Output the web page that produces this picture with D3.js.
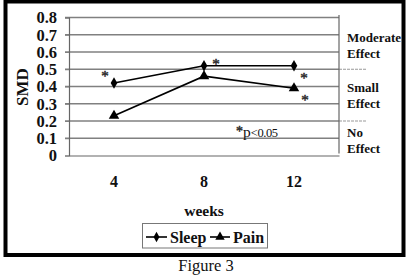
<!DOCTYPE html>
<html>
<head>
<meta charset="utf-8">
<script src="https://cdn.jsdelivr.net/npm/d3@7/dist/d3.min.js"></script>
<style>
  body { margin: 0; background: #fff; }
  svg { display: block; }
  text { font-family: "Liberation Serif", "Times New Roman", serif; fill: #111; }
  .estrela { stroke: #333; stroke-width: 0.5; }
</style>
</head>
<body>
<svg width="412" height="278"></svg>
<script>
// weeks on the x axis and SMD values per series
var semanas = ["4", "8", "12"];
var sono = [0.42, 0.52, 0.52];
var dor = [0.23, 0.46, 0.39];
var ticksY = [0, 0.1, 0.2, 0.3, 0.4, 0.5, 0.6, 0.7, 0.8];
// effect thresholds and their labels on the right
var limiares = [0.2, 0.5];
var efeitos = [["Moderate", "Effect"], ["Small", "Effect"], ["No", "Effect"]];
// significant points (* marks)
var sigSono = [true, true, true];
var sigDor = [false, false, true];

var svg = d3.select("svg");

var x = d3.scaleBand().domain(semanas).range([69, 339]);
var y = d3.scaleLinear().domain([0, 0.8]).range([155.5, 17.5]);

// outer frame
svg.append("rect")
    .attr("x", 5.5).attr("y", 1.5)
    .attr("width", 398).attr("height", 253.5)
    .attr("fill", "none").attr("stroke", "#000").attr("stroke-width", 4);

// gridlines
svg.append("g")
  .selectAll("line")
  .data(ticksY.filter(function(t){ return t > 0; }))
  .enter().append("line")
    .attr("x1", 65).attr("x2", 339)
    .attr("y1", function(d){ return y(d); })
    .attr("y2", function(d){ return y(d); })
    .attr("stroke", "#808080").attr("stroke-width", 1.3);

// threshold extensions past the right axis
svg.append("g")
  .selectAll("line")
  .data(limiares)
  .enter().append("line")
    .attr("x1", 339).attr("x2", 366)
    .attr("y1", function(d){ return y(d); })
    .attr("y2", function(d){ return y(d); })
    .attr("stroke", "#999").attr("stroke-width", 1.2)
    .attr("stroke-dasharray", "3,1");

// y axis
var eixoY = svg.append("g")
    .attr("transform", "translate(69,0)")
    .call(d3.axisLeft(y).tickValues(ticksY).tickSize(4).tickPadding(8)
      .tickFormat(function(d){ return d == 0 ? "0" : d3.format(".1f")(d); }));
eixoY.select(".domain").attr("stroke", "#666").attr("stroke-width", 1.2);
eixoY.selectAll(".tick line").attr("stroke", "#808080");
eixoY.selectAll("text")
    .attr("font-family", "Liberation Serif").attr("font-size", 16.5)
    .attr("font-weight", "bold").attr("fill", "#111");

// x axis
var eixoX = svg.append("g")
    .attr("transform", "translate(0," + y(0) + ")")
    .call(d3.axisBottom(x).tickSize(0).tickPadding(20));
eixoX.select(".domain").attr("stroke", "#666").attr("stroke-width", 1.2);
eixoX.selectAll("text")
    .attr("font-family", "Liberation Serif").attr("font-size", 16)
    .attr("font-weight", "bold").attr("fill", "#111");

// right side vertical line
svg.append("line")
    .attr("x1", 339).attr("x2", 339)
    .attr("y1", 15).attr("y2", y(0) - 2)
    .attr("stroke", "#666").attr("stroke-width", 1.2);

// right effect labels
var posEfeito = [42, 92, 137];
efeitos.forEach(function(e, i) {
  var t = svg.append("text")
      .attr("x", 347).attr("y", posEfeito[i])
      .attr("font-size", 13).attr("font-weight", "bold");
  t.append("tspan").attr("x", 347).text(e[0]);
  t.append("tspan").attr("x", 347).attr("dy", 15.5).text(e[1]);
});

// axis titles
svg.append("text")
    .attr("transform", "translate(28,87) rotate(-90)")
    .attr("text-anchor", "middle")
    .attr("font-size", 17).attr("font-weight", "bold")
    .text("SMD");

svg.append("text")
    .attr("x", 204).attr("y", 216)
    .attr("text-anchor", "middle")
    .attr("font-size", 15.5).attr("font-weight", "bold")
    .text("weeks");

// series lines and markers
var linha = d3.line()
    .x(function(d, i){ return x(semanas[i]) + x.bandwidth() / 2; })
    .y(function(d){ return y(d); });

var series = [
  { nome: "Sleep", valores: sono, simbolo: d3.symbolDiamond, tamanho: 38, sig: sigSono },
  { nome: "Pain", valores: dor, simbolo: d3.symbolTriangle, tamanho: 48, sig: sigDor }
];

series.forEach(function(s) {
  svg.append("path")
      .attr("d", linha(s.valores))
      .attr("fill", "none").attr("stroke", "#000").attr("stroke-width", 1.6);
  svg.append("g")
    .selectAll("path")
    .data(s.valores)
    .enter().append("path")
      .attr("transform", function(d, i){
        return "translate(" + (x(semanas[i]) + x.bandwidth() / 2) + "," + y(d) + ")"; })
      .attr("d", d3.symbol().type(s.simbolo).size(s.tamanho))
      .attr("fill", "#000");
});

// significance asterisks, offsets relative to the point
var desloc = {
  "Sleep": [[-9, -2], [12, 3], [10, 17]],
  "Pain": [null, null, [11, 17]]
};
series.forEach(function(s) {
  s.valores.forEach(function(v, i) {
    if (!s.sig[i]) return;
    var o = desloc[s.nome][i];
    svg.append("text")
        .attr("class", "estrela")
        .attr("x", x(semanas[i]) + x.bandwidth() / 2 + o[0])
        .attr("y", y(v) + o[1])
        .attr("text-anchor", "middle")
        .attr("font-size", 15)
        .attr("fill", "#333")
        .text("*");
  });
});

// p-value note
var nota = svg.append("text")
    .attr("x", 236).attr("y", 137).attr("font-size", 15.5);
nota.append("tspan").attr("class", "estrela").attr("font-size", 14).attr("dy", -1).text("*");
nota.append("tspan").attr("dy", 1).text("p");
nota.append("tspan").attr("font-size", 12.5).attr("letter-spacing", -0.4).text("<0.05");

// legend
var legenda = svg.append("g");
legenda.append("rect")
    .attr("x", 142.5).attr("y", 223.5).attr("width", 125).attr("height", 24.5)
    .attr("fill", "#fff").attr("stroke", "#777").attr("stroke-width", 1);
var itens = [
  { s: series[0], x0: 146, x1: 167, tx: 170 },
  { s: series[1], x0: 210, x1: 230, tx: 233 }
];
itens.forEach(function(it) {
  legenda.append("line")
      .attr("x1", it.x0).attr("x2", it.x1).attr("y1", 237).attr("y2", 237)
      .attr("stroke", "#000").attr("stroke-width", 1.6);
  legenda.append("path")
      .attr("transform", "translate(" + ((it.x0 + it.x1) / 2) + ",237)")
      .attr("d", d3.symbol().type(it.s.simbolo).size(it.s.tamanho * 0.8))
      .attr("fill", "#000");
  legenda.append("text")
      .attr("x", it.tx).attr("y", 242.5)
      .attr("font-size", 16).attr("font-weight", "bold")
      .text(it.s.nome);
});

// caption under the frame
svg.append("text")
    .attr("x", 206).attr("y", 271)
    .attr("text-anchor", "middle")
    .attr("font-size", 16.5)
    .text("Figure 3");
</script>
</body>
</html>
